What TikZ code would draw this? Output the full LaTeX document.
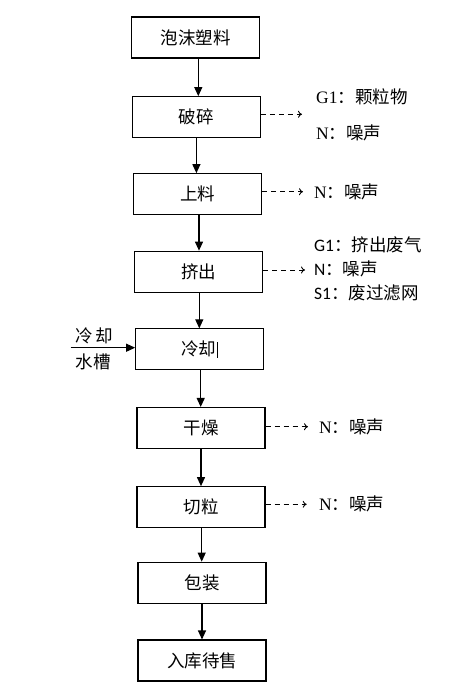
\documentclass[tikz,border=0pt]{standalone}
\usepackage{fontspec}
\setmainfont{Liberation Serif}
\newfontfamily\cjk{Noto Sans CJK SC}
\newfontfamily\lat{Carlito}
\usetikzlibrary{arrows.meta}
\begin{document}
\begin{tikzpicture}[x=1pt,y=-1pt,
  stepbox/.style={draw,line width=1.1pt,minimum width=128pt,minimum height=41pt,inner sep=0pt,font=\cjk\fontsize{17.5}{20}\selectfont},
  flow/.style={line width=1.1pt,-{Triangle[length=9pt,width=8pt]}},
  emis/.style={line width=0.9pt,dash pattern=on 5pt off 4pt,-{To[length=4pt,width=7pt]}},
  lbl/.style={anchor=west,inner sep=0pt,font=\fontsize{17.5}{20}\selectfont}]
\useasboundingbox (0,0) rectangle (466,691);
\node[stepbox] (b1) at (195.5,37.5) {泡沫塑料};
\node[stepbox] (b2) at (196.4,117.2) {破碎};
\node[stepbox] (b3) at (197.5,194.2) {上料};
\node[stepbox] (b4) at (198.7,271.7) {挤出};
\node[stepbox] (b5) at (199.7,349.4) {冷却\hspace{1pt}\rule[-2pt]{0.6pt}{16pt}};
\node[stepbox] (b6) at (201,428) {干燥};
\node[stepbox] (b7) at (201,507.2) {切粒};
\node[stepbox] (b8) at (202,582.7) {包装};
\node[stepbox] (b9) at (202,660.5) {入库待售};
\draw[flow] (198.3,59) coordinate (s1) -- (s1 |- b2.north);
\draw[flow] (b2.south) -- (b2.south |- b3.north);
\draw[flow] (199,215) coordinate (s3) -- (s3 |- b4.north);
\draw[flow] (199.3,292) coordinate (s4) -- (s4 |- b5.north);
\draw[flow] (200.7,370) coordinate (s5) -- (s5 |- b6.north);
\draw[flow] (b6.south) -- (b6.south |- b7.north);
\draw[flow] (201.7,527.7) coordinate (s7) -- (s7 |- b8.north);
\draw[flow] (b8.south) -- (b8.south |- b9.north);
% emissions
\coordinate (e2) at (302,114.3);
\draw[emis] (b2.east |- e2) -- (e2);
\node[lbl] (g2) at (316,97) {G1{\cjk ：颗粒物}};
\node[lbl] (n2) at (316,133) {N{\cjk ：噪声}};
\coordinate (e3) at (303,191.7);
\draw[emis] (b3.east |- e3) -- (e3);
\node[lbl] (n3) at (314,191.7) {N{\cjk ：噪声}};
\coordinate (e4) at (305,270);
\draw[emis] (b4.east |- e4) -- (e4);
\node[lbl,font=\lat\fontsize{17.5}{20}\selectfont] (g4) at (314,245) {G1{\cjk ：挤出废气}};
\node[lbl,font=\lat\fontsize{17.5}{20}\selectfont] (n4) at (314,269) {N{\cjk ：噪声}};
\node[lbl,font=\lat\fontsize{17.5}{20}\selectfont] (s14) at (314,293) {S1{\cjk ：废过滤网}};
\coordinate (e6) at (308,426.7);
\draw[emis] (b6.east |- e6) -- (e6);
\node[lbl] (n6) at (319,426.7) {N{\cjk ：噪声}};
\coordinate (e7) at (306.7,504.3);
\draw[emis] (b7.east |- e7) -- (e7);
\node[lbl] (n7) at (319,504.3) {N{\cjk ：噪声}};
% cooling water input
\coordinate (w) at (70.7,347.7);
\draw[flow] (w) -- (w -| b5.west);
\node[inner sep=0pt,font=\cjk\fontsize{17.5}{20}\selectfont] (wt) at (94,336) {冷\,却};
\node[inner sep=0pt,font=\cjk\fontsize{17.5}{20}\selectfont] (wb) at (93,362) {水槽};
\end{tikzpicture}
\end{document}
